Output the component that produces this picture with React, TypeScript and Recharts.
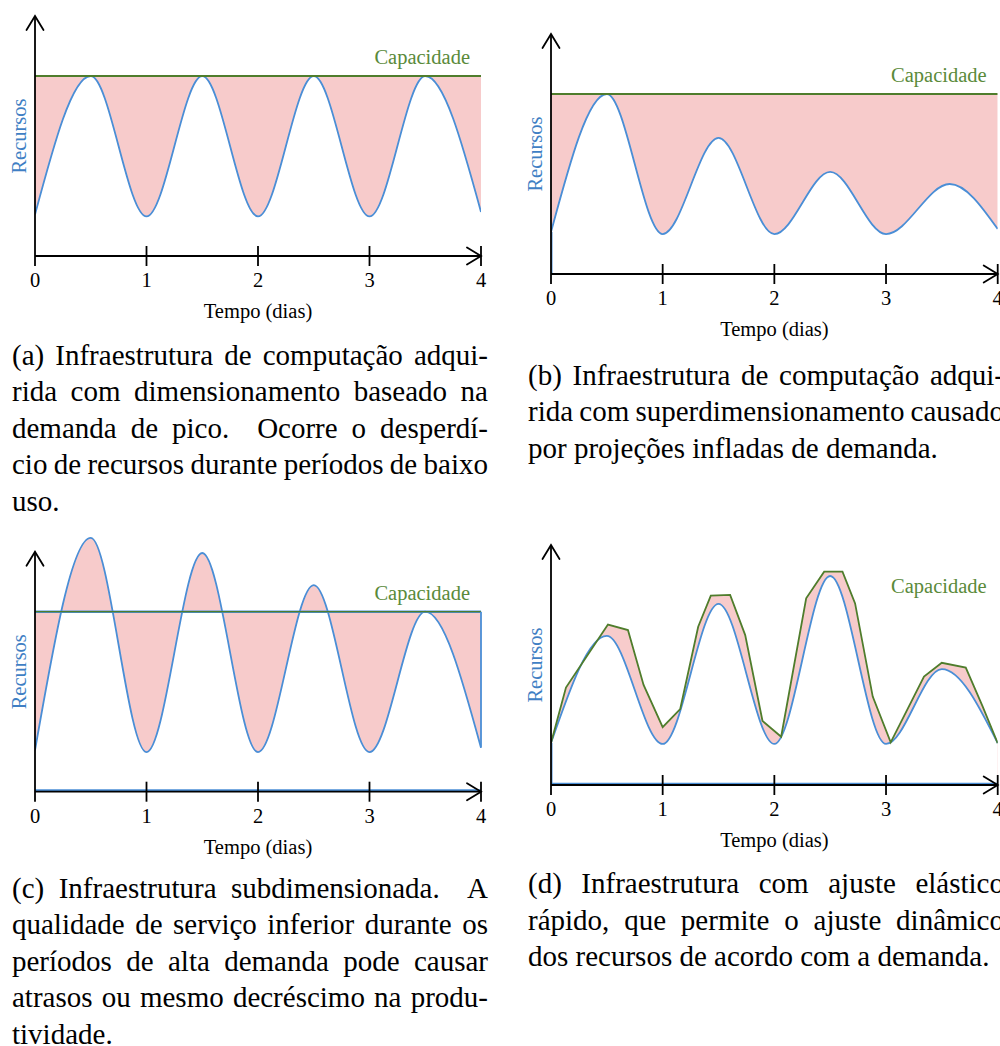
import React from 'react';
import { ComposedChart, Area, Line, XAxis, YAxis, ReferenceLine, ReferenceDot } from 'recharts';

const days = [0, 0.5, 1, 1.5, 2, 2.5, 3, 3.5, 4];
const daysB = [0, 0.5, 1, 1.5, 2, 2.5, 3, 3.57, 4];
const dayTicks = [0, 1, 2, 3, 4];

// (a) peak-based sizing
const demandA = [0.23, 1.0, 0.22, 1.0, 0.22, 1.0, 0.22, 1.0, 0.245];
const capacityA = 1.0;

// (b) over-provisioning
const demandB = [0.233, 1.0, 0.222, 0.756, 0.222, 0.567, 0.222, 0.5, 0.25];
const capacityB = 1.0;

// (c) under-provisioning
const demandC = [0.23, 1.41, 0.22, 1.326, 0.22, 1.148, 0.22, 1.0, 0.244];
const capacityC = 1.0;

// (d) elastic
const demandD = [0.233, 0.828, 0.228, 1.006, 0.228, 1.161, 0.228, 0.644, 0.233];
const capacityDaysD = [0, 0.134, 0.51, 0.689, 0.829, 1.0, 1.157, 1.318, 1.431, 1.604, 1.739, 1.894, 2.061, 2.285, 2.446, 2.61, 2.723, 2.881, 3.042, 3.34, 3.499, 3.714, 3.862, 4];
const capacityValuesD = [0.233, 0.541, 0.891, 0.861, 0.556, 0.321, 0.422, 0.879, 1.052, 1.056, 0.833, 0.356, 0.268, 1.037, 1.185, 1.185, 1.009, 0.491, 0.237, 0.602, 0.679, 0.652, 0.441, 0.232];

const axisTip = 1.333; // top of the y arrow
const capLabelY = 1.065;

const captionA = [
  '(a) Infraestrutura de computação adqui-',
  'rida com dimensionamento baseado na',
  'demanda de pico.  Ocorre o desperdí-',
  'cio de recursos durante períodos de baixo',
  'uso.',
];
const captionB = [
  '(b) Infraestrutura de computação adqui-',
  'rida com superdimensionamento causado',
  'por projeções infladas de demanda.',
];
const captionC = [
  '(c) Infraestrutura subdimensionada.  A',
  'qualidade de serviço inferior durante os',
  'períodos de alta demanda pode causar',
  'atrasos ou mesmo decréscimo na produ-',
  'tividade.',
];
const captionD = [
  '(d) Infraestrutura com ajuste elástico',
  'rápido, que permite o ajuste dinâmico',
  'dos recursos de acordo com a demanda.',
];

const SERIF = '"Liberation Serif", "Times New Roman", serif';
const BLUE = '#4a8ed6';
const BLUE_TEXT = '#3f7fc4';
const GREEN = '#4f7d2c';
const GREEN_TEXT = '#5a8a3a';
const PINK = '#f7cbcb';
const INK = '#000';

const bandRows = (x: number[], demand: number[], cap: number) =>
  x.map((t, i) => ({ t, demand: demand[i], capacity: cap, band: [demand[i], cap] }));
const demandRows = (x: number[], demand: number[]) => x.map((t, i) => ({ t, demand: demand[i] }));

const DayTick = (p: any) => {
  const { x, y, payload } = p;
  return (
    <g>
      {payload.value !== 0 && (
        <line x1={x} x2={x} y1={y - 10} y2={y + 10} stroke={INK} strokeWidth={1.8} />
      )}
      <text x={x} y={y + 31} textAnchor="middle" fontFamily={SERIF} fontSize={20.5} fill={INK}>
        {payload.value}
      </text>
    </g>
  );
};

const xAxisShape = (p: any) => {
  const { x1, y1, x2 } = p;
  return (
    <g>
      <line x1={x1} y1={y1} x2={x2} y2={y1} stroke={INK} strokeWidth={1.8} />
      <path
        d={`M${x2 - 14},${y1 - 8.5} Q${x2 - 5},${y1 - 3} ${x2},${y1} Q${x2 - 5},${y1 + 3} ${x2 - 14},${y1 + 8.5}`}
        fill="none"
        stroke={INK}
        strokeWidth={1.8}
        strokeLinecap="round"
      />
      <text x={(x1 + x2) / 2} y={y1 + 62} textAnchor="middle" fontFamily={SERIF} fontSize={20.5} fill={INK}>
        Tempo (dias)
      </text>
    </g>
  );
};

const yAxisShape = (p: any) => {
  const { x1, y1, y2 } = p;
  const mid = (y1 + y2) / 2;
  return (
    <g>
      <line x1={x1} y1={y1 + 10} x2={x1} y2={y2} stroke={INK} strokeWidth={1.8} />
      <path
        d={`M${x1 - 8.5},${y2 + 14} Q${x1 - 3},${y2 + 5} ${x1},${y2} Q${x1 + 3},${y2 + 5} ${x1 + 8.5},${y2 + 14}`}
        fill="none"
        stroke={INK}
        strokeWidth={1.8}
        strokeLinecap="round"
      />
      <text
        transform={`translate(${x1 - 9.5},${mid}) rotate(-90)`}
        textAnchor="middle"
        fontFamily={SERIF}
        fontSize={20.5}
        fill={BLUE_TEXT}
      >
        Recursos
      </text>
    </g>
  );
};

const capLabelShape = (p: any) => (
  <text x={p.cx - 11} y={p.cy} textAnchor="end" fontFamily={SERIF} fontSize={20.5} fill={GREEN_TEXT}>
    Capacidade
  </text>
);

type Box = { left: number; top: number; width: number; height: number };
type Margin = { top: number; right: number; bottom: number; left: number };

function Panel({ box, margin, yMax, children }: { box: Box; margin: Margin; yMax: number; children: React.ReactNode }) {
  return (
    <div style={{ position: 'absolute', left: box.left, top: box.top }}>
      <ComposedChart width={box.width} height={box.height} margin={margin}>
        <XAxis
          type="number"
          dataKey="t"
          domain={[0, 4]}
          ticks={dayTicks}
          interval={0}
          height={60}
          axisLine={false}
          tickLine={false}
          tickSize={0}
          tickMargin={0}
          tick={<DayTick />}
          allowDataOverflow
        />
        <YAxis hide type="number" domain={[0, yMax]} allowDataOverflow />
        {children}
        <ReferenceLine segment={[{ x: 0, y: 0 }, { x: 4, y: 0 }]} shape={xAxisShape} />
        <ReferenceLine segment={[{ x: 0, y: 0 }, { x: 0, y: axisTip }]} shape={yAxisShape} />
        <ReferenceDot x={4} y={capLabelY} r={0} shape={capLabelShape} />
      </ComposedChart>
    </div>
  );
}

function Caption({ left, top, lines }: { left: number; top: number; lines: string[] }) {
  return (
    <div
      style={{
        position: 'absolute',
        left,
        top,
        width: 476,
        fontFamily: SERIF,
        fontSize: 29,
        lineHeight: '36.4px',
        color: '#000',
      }}
    >
      {lines.map((l, i) => {
        const last = i === lines.length - 1;
        return (
          <div
            key={i}
            style={{
              textAlign: last ? 'left' : 'justify',
              textAlignLast: last ? 'left' : 'justify',
              wordSpacing: last ? 0 : -5,
              whiteSpace: 'pre-wrap',
            }}
          >
            {l}
          </div>
        );
      })}
    </div>
  );
}

export default function App() {
  const rowsA = bandRows(days, demandA, capacityA);
  const rowsB = bandRows(daysB, demandB, capacityB);
  const rowsC = bandRows(days, demandC, capacityC);
  const rowsD = demandRows(days, demandD);
  const capRowsD = capacityDaysD.map((t, i) => ({ t, capacity: capacityValuesD[i] }));

  return (
    <div style={{ position: 'absolute', left: 0, top: 0, width: 1000, height: 1046, overflow: 'hidden', background: '#fff' }}>
      {/* (a) */}
      <Panel box={{ left: 0, top: 0, width: 500, height: 330 }} margin={{ top: 11.2, right: 19, bottom: 14, left: 35 }} yMax={1.36}>
        <Area data={rowsA} dataKey="band" type="monotone" fill={PINK} fillOpacity={1} stroke="none" isAnimationActive={false} />
        <Line data={rowsA} dataKey="demand" type="monotone" stroke={BLUE} strokeWidth={1.8} dot={false} activeDot={false} isAnimationActive={false} />
        <Line data={rowsA} dataKey="capacity" type="linear" stroke={GREEN} strokeWidth={1.8} dot={false} activeDot={false} isAnimationActive={false} />
      </Panel>

      {/* (b) */}
      <Panel box={{ left: 500, top: 0, width: 500, height: 350 }} margin={{ top: 29.2, right: 2.3, bottom: 16, left: 51 }} yMax={1.36}>
        <Area data={rowsB} dataKey="band" type="monotone" fill={PINK} fillOpacity={1} stroke="none" isAnimationActive={false} />
        <Line data={rowsB} dataKey="demand" type="monotone" stroke={BLUE} strokeWidth={1.8} dot={false} activeDot={false} isAnimationActive={false} />
        <Line data={rowsB} dataKey="capacity" type="linear" stroke={GREEN} strokeWidth={1.8} dot={false} activeDot={false} isAnimationActive={false} />
        <ReferenceLine segment={[{ x: 0.008, y: 0 }, { x: 0.008, y: demandB[0] }]} stroke={BLUE} strokeWidth={1.2} />
      </Panel>

      {/* (c) */}
      <Panel box={{ left: 0, top: 520, width: 500, height: 340 }} margin={{ top: 10.7, right: 19, bottom: 8.3, left: 35 }} yMax={1.45}>
        <Area data={rowsC} dataKey="band" type="monotone" fill={PINK} fillOpacity={1} stroke="none" isAnimationActive={false} />
        <Line data={rowsC} dataKey="capacity" type="linear" stroke={BLUE} strokeWidth={2.6} dot={false} activeDot={false} isAnimationActive={false} />
        <Line data={rowsC} dataKey="demand" type="monotone" stroke={BLUE} strokeWidth={1.8} dot={false} activeDot={false} isAnimationActive={false} />
        <Line data={rowsC} dataKey="capacity" type="linear" stroke={GREEN} strokeWidth={1.3} dot={false} activeDot={false} isAnimationActive={false} />
        <ReferenceLine segment={[{ x: 4, y: demandC[demandC.length - 1] }, { x: 4, y: capacityC }]} stroke={BLUE} strokeWidth={1.8} />
        <ReferenceLine segment={[{ x: 0, y: 0.009 }, { x: 4, y: 0.009 }]} stroke={BLUE} strokeWidth={1.6} />
      </Panel>

      {/* (d) */}
      <Panel box={{ left: 500, top: 530, width: 500, height: 330 }} margin={{ top: 10.2, right: 2.3, bottom: 15, left: 51 }} yMax={1.36}>
        <Area data={capRowsD} dataKey="capacity" type="linear" baseValue={0.05} fill={PINK} fillOpacity={1} stroke="none" isAnimationActive={false} />
        <Area data={rowsD} dataKey="demand" type="monotone" baseValue={0.05} fill="#fff" fillOpacity={1} stroke="none" isAnimationActive={false} />
        <Line data={rowsD} dataKey="demand" type="monotone" stroke={BLUE} strokeWidth={1.8} dot={false} activeDot={false} isAnimationActive={false} />
        <Line data={capRowsD} dataKey="capacity" type="linear" stroke={GREEN} strokeWidth={1.8} dot={false} activeDot={false} isAnimationActive={false} />
        <ReferenceLine segment={[{ x: 0.008, y: 0 }, { x: 0.008, y: demandD[0] }]} stroke={BLUE} strokeWidth={1.2} />
        <ReferenceLine segment={[{ x: 0, y: 0.009 }, { x: 4, y: 0.009 }]} stroke={BLUE} strokeWidth={1.4} />
      </Panel>

      <Caption left={12} top={337} lines={captionA} />
      <Caption left={528} top={357} lines={captionB} />
      <Caption left={12} top={870} lines={captionC} />
      <Caption left={528} top={865.3} lines={captionD} />
    </div>
  );
}
